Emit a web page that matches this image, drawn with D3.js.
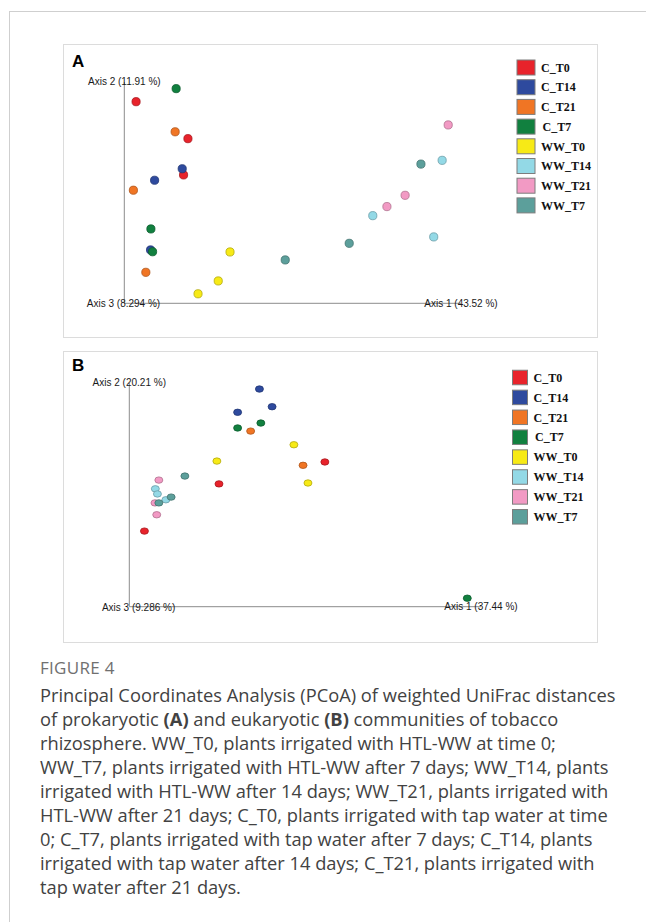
<!DOCTYPE html>
<html>
<head>
<meta charset="utf-8">
<script src="https://cdn.jsdelivr.net/npm/d3@7/dist/d3.min.js"></script>
<style>
  html, body { margin: 0; padding: 0; background: #fff; }
  svg { display: block; }
</style>
</head>
<body>
<script>
// Sample groups (treatment x sampling day) and their colours
const groups = ["C_T0", "C_T14", "C_T21", "C_T7", "WW_T0", "WW_T14", "WW_T21", "WW_T7"];
const groupColors = ["#e8232b", "#2e4a9e", "#f07524", "#11803f", "#f7ea16", "#93d9e6", "#f29ac4", "#5c9f9b"];

// Panel A: prokaryotic community, PCoA scores (scaled to the plotted axis extent)
const prokGroup = [
  "C_T0", "C_T0", "C_T0",
  "C_T14", "C_T14", "C_T14",
  "C_T21", "C_T21", "C_T21",
  "C_T7", "C_T7", "C_T7",
  "WW_T0", "WW_T0", "WW_T0",
  "WW_T14", "WW_T14", "WW_T14",
  "WW_T21", "WW_T21", "WW_T21",
  "WW_T7", "WW_T7", "WW_T7"
];
const prokAxis1 = [0.035, 0.189, 0.176, 0.172, 0.090, 0.078, 0.151, 0.027, 0.064, 0.154, 0.079, 0.084,
                   0.314, 0.279, 0.219, 0.944, 0.738, 0.919, 0.962, 0.834, 0.780, 0.881, 0.668, 0.478];
const prokAxis2 = [0.911, 0.744, 0.580, 0.608, 0.556, 0.241, 0.775, 0.511, 0.140, 0.970, 0.336, 0.233,
                   0.232, 0.101, 0.043, 0.646, 0.396, 0.300, 0.806, 0.488, 0.437, 0.629, 0.271, 0.196];
const prokAxisLabels = ["Axis 1 (43.52 %)", "Axis 2 (11.91 %)", "Axis 3 (8.294 %)"];

// Panel B: eukaryotic community, PCoA scores (scaled to the plotted axis extent)
const eukGroup = [
  "C_T0", "C_T0", "C_T0",
  "C_T14", "C_T14", "C_T14",
  "C_T21", "C_T21",
  "C_T7", "C_T7", "C_T7",
  "WW_T0", "WW_T0", "WW_T0",
  "WW_T14", "WW_T14", "WW_T14",
  "WW_T21", "WW_T21", "WW_T21",
  "WW_T7", "WW_T7", "WW_T7"
];
const eukAxis1 = [0.556, 0.255, 0.043, 0.370, 0.406, 0.308, 0.345, 0.494, 0.374, 0.308, 0.961,
                  0.468, 0.249, 0.508, 0.074, 0.080, 0.104, 0.084, 0.073, 0.078, 0.158, 0.119, 0.084];
const eukAxis2 = [0.647, 0.549, 0.338, 0.973, 0.894, 0.869, 0.785, 0.632, 0.821, 0.799, 0.038,
                  0.724, 0.651, 0.553, 0.527, 0.504, 0.478, 0.566, 0.464, 0.411, 0.584, 0.490, 0.464];
const eukAxisLabels = ["Axis 1 (37.44 %)", "Axis 2 (20.21 %)", "Axis 3 (9.286 %)"];

const captionTitle = "FIGURE 4";
const captionLines = [
  [["Principal Coordinates Analysis (PCoA) of weighted UniFrac distances", false]],
  [["of prokaryotic ", false], ["(A)", true], [" and eukaryotic ", false], ["(B)", true], [" communities of tobacco", false]],
  [["rhizosphere. WW_T0, plants irrigated with HTL-WW at time 0;", false]],
  [["WW_T7, plants irrigated with HTL-WW after 7 days; WW_T14, plants", false]],
  [["irrigated with HTL-WW after 14 days; WW_T21, plants irrigated with", false]],
  [["HTL-WW after 21 days; C_T0, plants irrigated with tap water at time", false]],
  [["0; C_T7, plants irrigated with tap water after 7 days; C_T14, plants", false]],
  [["irrigated with tap water after 14 days; C_T21, plants irrigated with", false]],
  [["tap water after 21 days.", false]]
];

const W = 646, H = 922;
const svg = d3.select("body").append("svg").attr("width", W).attr("height", H);
svg.append("rect").attr("width", W).attr("height", H).attr("fill", "#fff");

// outer figure card
svg.append("rect")
  .attr("x", 9.5).attr("y", 11.5).attr("width", 700).attr("height", 1000)
  .attr("fill", "none").attr("stroke", "#cfcfcf").attr("stroke-width", 1);

const color = d3.scaleOrdinal().domain(groups).range(groupColors);

function darker(c) { return d3.color(c).darker(0.9).formatHex(); }

function drawPanel(cfg) {
  const g = svg.append("g");
  // panel frame
  g.append("rect")
    .attr("x", cfg.box[0] + 0.5).attr("y", cfg.box[1] + 0.5)
    .attr("width", cfg.box[2]).attr("height", cfg.box[3])
    .attr("fill", "#fff").attr("stroke", "#dcdcdc").attr("stroke-width", 1);

  g.append("text")
    .attr("x", cfg.letterPos[0]).attr("y", cfg.letterPos[1])
    .attr("font-family", "Liberation Sans, Arial, sans-serif")
    .attr("font-weight", "bold").attr("font-size", 17).attr("fill", "#000")
    .text(cfg.letter);

  const x = d3.scaleLinear().domain([0, 1]).range(cfg.xRange);
  const y = d3.scaleLinear().domain([0, 1]).range(cfg.yRange);

  // axis lines
  g.append("line")
    .attr("x1", x(0)).attr("x2", x(0)).attr("y1", y(0)).attr("y2", y(1))
    .attr("stroke", "#8c8c8c").attr("stroke-width", 1);
  g.append("line")
    .attr("x1", x(0)).attr("x2", x(1)).attr("y1", y(0)).attr("y2", y(0))
    .attr("stroke", "#8c8c8c").attr("stroke-width", 1);

  const labelFont = "Liberation Sans, Arial, sans-serif";
  const lab = g.append("g")
    .attr("font-family", labelFont).attr("font-size", 10)
    .attr("fill", "#1a1a1a").attr("text-anchor", "middle");
  lab.append("text").attr("x", x(1)).attr("y", y(0) + 3.5).text(cfg.axisLabels[0]);
  lab.append("text").attr("x", x(0)).attr("y", y(1) + 2.5).text(cfg.axisLabels[1]);
  lab.append("text").attr("x", x(0) + cfg.axis3Shift).attr("y", y(0) + 4).text(cfg.axisLabels[2]);

  // samples
  const pts = cfg.group.map((grp, i) => ({ grp, a1: cfg.a1[i], a2: cfg.a2[i] }));
  g.append("g").selectAll("ellipse").data(pts).join("ellipse")
    .attr("cx", d => x(d.a1)).attr("cy", d => y(d.a2))
    .attr("rx", cfg.rx).attr("ry", cfg.ry)
    .attr("fill", d => color(d.grp))
    .attr("stroke", d => darker(color(d.grp)))
    .attr("stroke-width", 0.8);

  // legend
  const leg = g.append("g");
  const row = leg.selectAll("g").data(groups).join("g")
    .attr("transform", (d, i) => `translate(${cfg.legX},${cfg.legY + i * cfg.legStep})`);
  row.append("rect")
    .attr("x", 0.5).attr("y", -cfg.sq[1] / 2)
    .attr("width", cfg.sq[0]).attr("height", cfg.sq[1])
    .attr("fill", d => color(d))
    .attr("stroke", "#7d7d7d").attr("stroke-width", 1);
  row.append("text")
    .attr("x", (d) => cfg.sq[0] + cfg.textGap + (d === "C_T7" ? 1.5 : 0))
    .attr("y", 4.2)
    .attr("font-family", "Liberation Serif, Times New Roman, serif")
    .attr("font-weight", "bold").attr("font-size", 12).attr("fill", "#111")
    .text(d => d);
}

drawPanel({
  box: [63, 44, 534, 293], letter: "A", letterPos: [72, 67],
  xRange: [124.3, 461], yRange: [303.3, 82],
  axisLabels: prokAxisLabels, axis3Shift: -0.8,
  group: prokGroup, a1: prokAxis1, a2: prokAxis2, rx: 4.1, ry: 4.1,
  legX: 516.5, legY: 67.5, legStep: 19.7, sq: [18, 15], textGap: 6.5
});

drawPanel({
  box: [63, 351, 534, 291], letter: "B", letterPos: [72, 371],
  xRange: [129.3, 481], yRange: [606.7, 383],
  axisLabels: eukAxisLabels, axis3Shift: 9.3,
  group: eukGroup, a1: eukAxis1, a2: eukAxis2, rx: 4.0, ry: 3.2,
  legX: 512, legY: 377.5, legStep: 19.9, sq: [15, 14.5], textGap: 6.5
});

// caption
const cap = svg.append("g").attr("font-family", "Open Sans, Noto Sans, sans-serif");
cap.append("text")
  .attr("x", 40).attr("y", 674)
  .attr("font-size", 17).attr("letter-spacing", 0.3).attr("fill", "#707070")
  .text(captionTitle);
const capText = cap.append("g").attr("font-size", 18.3).attr("fill", "#424242");
captionLines.forEach((parts, i) => {
  const t = capText.append("text").attr("x", 40).attr("y", 701.5 + i * 24);
  parts.forEach(([s, bold]) => {
    t.append("tspan").attr("font-weight", bold ? "bold" : null).text(s);
  });
});
</script>
</body>
</html>
